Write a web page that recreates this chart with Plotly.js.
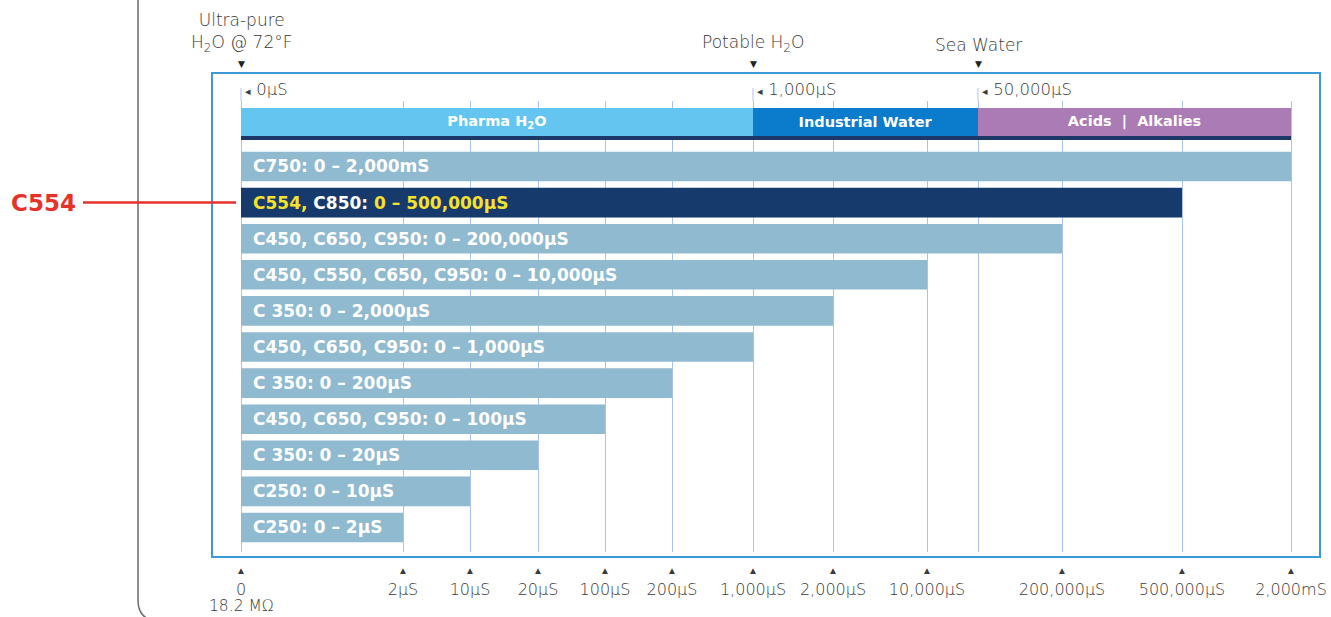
<!DOCTYPE html>
<html><head><meta charset="utf-8">
<script src="https://cdn.plot.ly/plotly-3.0.1.min.js"></script>
<style>html,body{margin:0;padding:0;background:#fff;}#chart{width:1331px;height:617px;}</style>
</head><body><div id="chart"></div>
<script>
// Conductivity scale (ordinal, non-uniform), tick labels and their axis positions
const tickLabels = ["0","2µS","10µS","20µS","100µS","200µS","1,000µS","2,000µS","10,000µS","50,000µS","200,000µS","500,000µS","2,000mS"];
const tickPos    = [0,162,229,297,364,431,512,592,686,737,821,941,1050];
const tickOnAxis = [true,true,true,true,true,true,true,true,true,false,true,true,true];
const zeroResistivity = "18.2 MΩ";

// Sensor series
const models = ["C750","C554, C850","C450, C650, C950","C450, C550, C650, C950","C 350","C450, C650, C950","C 350","C450, C650, C950","C 350","C250","C250"];
const rangeMax = ["2,000mS","500,000µS","200,000µS","10,000µS","2,000µS","1,000µS","200µS","100µS","20µS","10µS","2µS"];
const highlighted = [false,true,false,false,false,false,false,false,false,false,false];

// Application bands
const bandNames = ["Pharma H<sub>2</sub>O","Industrial Water","Acids  |  Alkalies"];
const bandStart = ["0","1,000µS","50,000µS"];
const bandEnd   = ["1,000µS","50,000µS","2,000mS"];
const bandColors = ["#64C6F0","#0B7CCB","#AB7BB5"];

// Reference markers
const markerNames = ["Ultra-pure<br>H<sub>2</sub>O @ 72°F","Potable H<sub>2</sub>O","Sea Water"];
const markerAt    = ["0","1,000µS","50,000µS"];
const markerLabel = ["0µS","1,000µS","50,000µS"];

const pos = v => tickPos[tickLabels.indexOf(v)];

// layout helpers (plot area 212..1320 x 101..552 px)
const L=212, R=1320, T=101, B=552;
const px = p => (p - L)/(R - L);
const py = p => (B - p)/(B - T);

const yIdx = models.map((m,i)=>i);
const BAND_Y = -1.233, STRIPE_Y = -0.789;
const SANS = 'DejaVu Sans';
const GREY = '#3a3a3a';

const traces = [];
traces.push({
  type:'bar', orientation:'h', y:yIdx, x:rangeMax.map(pos), base:0,
  width:0.82, marker:{color:highlighted.map(h=>h?'#173A6D':'#8FBAD0')},
  hoverinfo:'skip', showlegend:false
});
traces.push({
  type:'bar', orientation:'h', y:bandNames.map(()=>BAND_Y),
  base:bandStart.map(pos), x:bandStart.map((s,i)=>pos(bandEnd[i])-pos(s)),
  width:0.776, marker:{color:bandColors},
  text:bandNames, textposition:'inside', insidetextanchor:'middle', constraintext:'none',
  textfont:{family:SANS, size:14.5, color:'#ffffff', weight:700},
  hoverinfo:'skip', showlegend:false
});
traces.push({
  type:'bar', orientation:'h', y:[STRIPE_Y], base:[pos(bandStart[0])],
  x:[pos(bandEnd[bandEnd.length-1])-pos(bandStart[0])],
  width:0.111, marker:{color:'#1B3868'}, hoverinfo:'skip', showlegend:false
});

const ann = [];
const yel = '#F6E12B';
models.forEach((m,i)=>{
  let t;
  if (highlighted[i]) {
    const parts = m.split(', ');
    t = `<span style="color:${yel}">${parts[0]},</span> ${parts.slice(1).join(', ')}: <span style="color:${yel}">0 – ${rangeMax[i]}</span>`;
  } else {
    t = `${m}: 0 – ${rangeMax[i]}`;
  }
  ann.push({x:0, y:i, xref:'x', yref:'y', text:t, showarrow:false, xanchor:'left', yanchor:'middle',
    xshift:10, font:{family:SANS, size:17, color:'#ffffff', weight:700}});
});

const shapes = [];
// frame
shapes.push({type:'rect', xref:'paper', yref:'paper', x0:px(212), x1:px(1320), y0:py(557), y1:py(73),
  line:{color:'#3D98D8', width:2}, layer:'above'});
// marker lines extension and labels
markerAt.forEach((v,i)=>{
  shapes.push({type:'line', xref:'x', yref:'paper', x0:pos(v), x1:pos(v), y0:1, y1:py(88),
    line:{color:'#A9C3EE', width:1}});
  ann.push({x:pos(v), xref:'x', yref:'paper', y:py(89), text:'<span style="font-size:11px">◂</span> '+markerLabel[i], showarrow:false,
    xanchor:'left', yanchor:'middle', xshift:2, font:{family:SANS, size:16.5, color:GREY, weight:300}});
  ann.push({x:pos(v), xref:'x', yref:'paper', y:py(64), text:'▼', showarrow:false,
    xanchor:'center', yanchor:'middle', font:{family:SANS, size:9, color:'#222'}});
  ann.push({x:pos(v), xref:'x', yref:'paper', y:py(57), text:markerNames[i], showarrow:false,
    xanchor:'center', yanchor:'bottom', font:{family:SANS, size:17, color:GREY, weight:300}});
});
// resistivity note under zero
ann.push({x:pos("0"), xref:'x', yref:'paper', y:py(606), text:zeroResistivity, showarrow:false,
  xanchor:'center', yanchor:'middle', font:{family:SANS, size:15.5, color:GREY, weight:300}});
// left bracket
const bx = (138-L)/(R-L);
shapes.push({type:'path', xref:'paper', yref:'paper',
  path:`M ${bx} ${py(-5)} L ${bx} ${py(600)} Q ${bx} ${py(617)} ${px(152)} ${py(620)}`,
  line:{color:'#6b6b6b', width:1.5}});
// highlight callout
shapes.push({type:'line', xref:'paper', yref:'y', x0:px(83), x1:px(236), y0:1, y1:1,
  line:{color:'#E5332A', width:2.5}, layer:'above'});
ann.push({xref:'paper', yref:'y', x:px(78), y:1, text:'<b>C554</b>', showarrow:false, xanchor:'right', yanchor:'middle',
  font:{family:SANS, size:23, color:'#E5332A'}});

const layout = {
  width:1331, height:617,
  margin:{l:L, r:1331-R, t:T, b:617-B, pad:0},
  paper_bgcolor:'#fff', plot_bgcolor:'rgba(0,0,0,0)',
  barmode:'overlay',
  xaxis:{range:[L-241, R-241], tickvals:tickPos,
    ticktext:tickLabels.map((t,i)=> tickOnAxis[i] ? '<span style="font-size:10px">▲</span><br>'+t : ''),
    showgrid:true, gridcolor:'#A9C3EE', gridwidth:1, zeroline:false, showline:false, ticks:'',
    tickfont:{family:SANS, size:16, color:GREY, weight:300}, fixedrange:true, ticklabelstandoff:5},
  yaxis:{range:[10.679,-1.814], visible:false, fixedrange:true},
  shapes:shapes, annotations:ann, showlegend:false
};
Plotly.newPlot('chart', traces, layout, {displayModeBar:false, staticPlot:true});
</script></body></html>
